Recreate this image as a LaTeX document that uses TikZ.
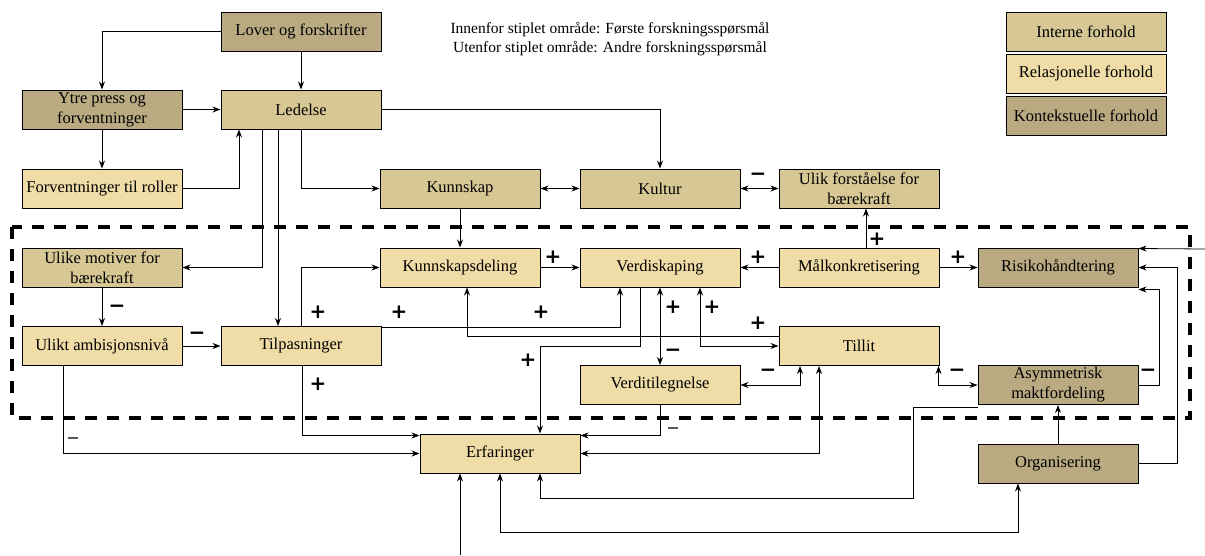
\documentclass[tikz,border=0pt]{standalone}
\usepackage{fontspec}
\setmainfont{Liberation Serif}
\newfontfamily\signfont{DejaVu Sans}
\usetikzlibrary{arrows.meta}

\definecolor{intern}{HTML}{D6C794}
\definecolor{relasjon}{HTML}{F0DCA6}
\definecolor{kontekst}{HTML}{B9AA82}

\tikzset{
  faktor/.style={draw, line width=1pt, minimum width=160pt, minimum height=39pt,
    inner sep=0pt, align=center, font=\fontsize{16.5}{20}\selectfont},
  arr/.style={-{Stealth[length=8pt,width=6pt]}, line width=0.8pt},
  dbl/.style={{Stealth[length=8pt,width=6pt]}-{Stealth[length=8pt,width=6pt]}, line width=0.8pt},
  sign/.style={font=\fontsize{20}{20}\signfont\bfseries, inner sep=0pt},
  thinsign/.style={font=\fontsize{16}{16}\signfont, inner sep=0pt}
}

\begin{document}
\begin{tikzpicture}[x=1pt, y=-1pt]
  \useasboundingbox (0,0) rectangle (1205,555);

  % stiplet omraade
  \draw[line width=3.5pt, dash pattern=on 12pt off 10pt] (12,227) rectangle (1190,418);

  \node[font=\fontsize{15.5}{19}\selectfont, align=center] (info) at (610,39)
    {Innenfor stiplet område: Første forskningsspørsmål\\Utenfor stiplet område: Andre forskningsspørsmål};

  % forklaring
  \node[faktor, fill=intern] (legint) at (1086,31.5) {Interne forhold};
  \node[faktor, fill=relasjon] (legrel) at (1086,73.5) {Relasjonelle forhold};
  \node[faktor, fill=kontekst] (legkon) at (1086,115.5) {Kontekstuelle forhold};

  % faktorer
  \node[faktor, fill=kontekst] (lover) at (301,31.5) {Lover og forskrifter};
  \node[faktor, fill=kontekst] (ytre) at (102,109.5) {Ytre press og\\forventninger};
  \node[faktor, fill=intern] (ledelse) at (301,109.5) {Ledelse};
  \node[faktor, fill=relasjon] (forv) at (102,188.5) {Forventninger til roller};
  \node[faktor, fill=intern] (kunnskap) at (460,188.5) {Kunnskap};
  \node[faktor, fill=intern] (kultur) at (660,188.5) {Kultur};
  \node[faktor, fill=intern] (ulik) at (859,188.5) {Ulik forståelse for\\bærekraft};

  \node[faktor, fill=intern] (motiver) at (102,267.5) {Ulike motiver for\\bærekraft};
  \node[faktor, fill=relasjon] (kdeling) at (460,267.5) {Kunnskapsdeling};
  \node[faktor, fill=relasjon] (verdi) at (660,267.5) {Verdiskaping};
  \node[faktor, fill=relasjon] (maal) at (859,267.5) {Målkonkretisering};
  \node[faktor, fill=kontekst] (risiko) at (1058,267.5) {Risikohåndtering};

  \node[faktor, fill=relasjon] (ambisjon) at (102,346) {Ulikt ambisjonsnivå};
  \node[faktor, fill=relasjon] (tilp) at (301,346) {Tilpasninger};
  \node[faktor, fill=relasjon] (tillit) at (859,346) {Tillit};
  \node[faktor, fill=relasjon] (verditil) at (660,385) {Verditilegnelse};
  \node[faktor, fill=kontekst] (asym) at (1058,385) {Asymmetrisk\\maktfordeling};

  \node[faktor, fill=relasjon] (erf) at (500,453.5) {Erfaringer};
  \node[faktor, fill=kontekst] (org) at (1058,463.5) {Organisering};

  \coordinate (rand) at (1205,249);
  \coordinate (unten) at (460,555);

  % piler
  \draw[arr] (lover.west) -| (ytre.north);
  \draw[arr] (lover) -- (ledelse);
  \draw[arr] (ytre) -- (ledelse);
  \draw[arr] (ytre) -- (forv);
  \draw[arr] (forv.east) -| ([xshift=-62pt]ledelse.south);
  \draw[arr] (ledelse.east) -| (kultur.north);
  \draw[arr] (ledelse.south) |- (kunnskap.west);
  \draw[arr] ([xshift=-39pt]ledelse.south) |- (motiver.east);
  \draw[arr] ([xshift=-23pt]ledelse.south) -- ([xshift=-23pt]tilp.north);
  \draw[dbl] (kunnskap) -- (kultur);
  \draw[dbl] (kultur) -- (ulik);
  \draw[arr] (kunnskap) -- (kdeling);
  \draw[arr] ([xshift=7pt]maal.north) -- ([xshift=7pt]ulik.south);
  \draw[arr] (kdeling) -- (verdi);
  \draw[arr] (maal) -- (verdi);
  \draw[arr] (maal) -- (risiko);
  \draw[arr] (motiver) -- (ambisjon);
  \draw[arr] (ambisjon) -- (tilp);
  \draw[arr] (tilp.north) |- (kdeling.west);
  \draw[arr] ([yshift=-1pt]tilp.north east) -| ([xshift=-40pt]verdi.south);
  \draw[arr] ([yshift=-10pt]tillit.north west) -| ([xshift=7pt]kdeling.south);
  \draw[arr] ([xshift=-20pt]verdi.south) |- (540,346) -- ([xshift=40pt]erf.north);
  \draw[dbl] (verdi) -- (verditil);
  \draw[dbl] ([xshift=40pt]verdi.south) |- (tillit.west);
  \draw[dbl] ([xshift=-59pt]tillit.south) |- (verditil.east);
  \draw[dbl] ([xshift=-40pt]tillit.south) |- (erf.east);
  \draw[arr] (verditil.south) |- ([yshift=-2pt]erf.north east);
  \draw[arr] ([xshift=1pt]tilp.south) |- ([yshift=-2pt]erf.north west);
  \draw[arr] ([xshift=-39pt]ambisjon.south) |- (erf.west);
  \draw[dbl] ([xshift=-1pt]tillit.south east) |- (asym.west);
  \draw[arr] (asym.east) -| ([xshift=21pt,yshift=-2pt]risiko.south east) -- ([yshift=-2pt]risiko.south east);
  \draw[arr] (org.east) -| ([xshift=39pt]risiko.east) -- (risiko.east);
  \draw[arr] (rand) -- ([yshift=-1pt]risiko.north east);
  \draw[arr] (org) -- (asym);
  \draw[arr] ([yshift=-2pt]asym.south west) -| (913,498) -| ([xshift=40pt]erf.south);
  \draw[dbl] (erf.south) -- ++(0,59) -| ([xshift=-40pt]org.south);
  \draw[arr] (unten) -- ([xshift=-40pt]erf.south);

  % fortegn
  \foreach \x/\y/\s [count=\i] in {758/177/−, 877/239/+, 553/257/+, 758/257/+, 958/257/+,
      117/309/−, 197/336/−, 318/312/+, 399/312/+, 541/312/+, 673/307/+, 712/307/+,
      758/323/+, 673/353/−, 528/360/+, 768/373/−, 957/373/−, 1148/373/−, 318/384/+} {
    \node[sign] (s\i) at (\x,\y) {\s};
  }
  \node[thinsign] (t1) at (73,441) {−};
  \node[thinsign] (t2) at (673,431) {−};
\end{tikzpicture}
\end{document}
